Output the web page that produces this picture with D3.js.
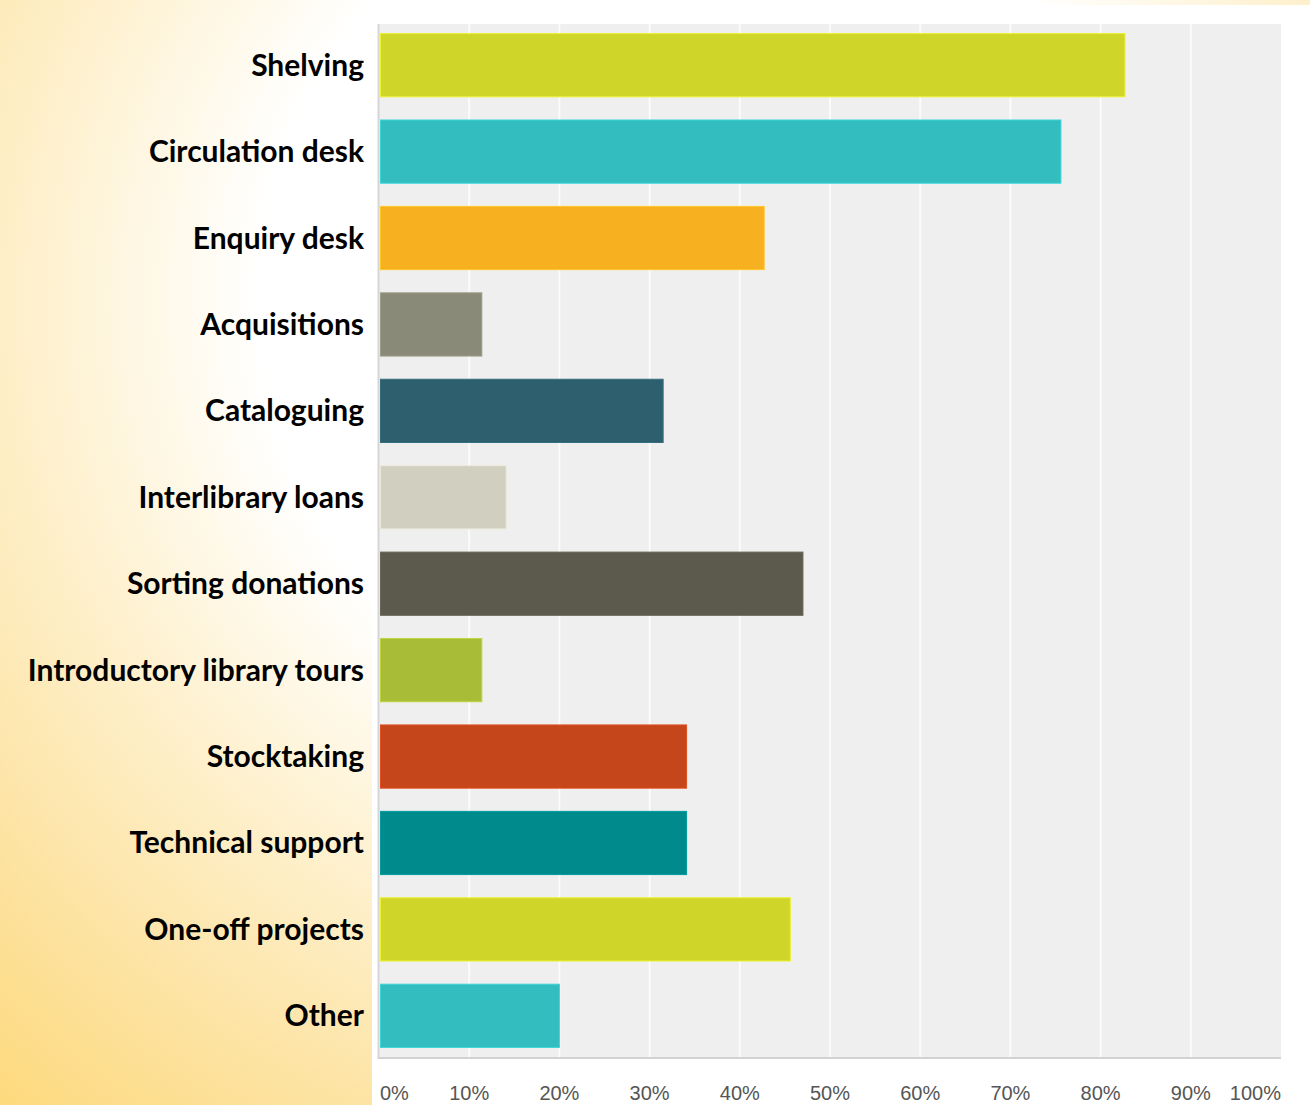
<!DOCTYPE html>
<html>
<head>
<meta charset="utf-8">
<script src="https://cdn.jsdelivr.net/npm/d3@7"></script>
<style>
  html, body { margin: 0; padding: 0; background: #fff; }
  svg { display: block; }
</style>
</head>
<body>
<svg id="chart" width="1310" height="1105"></svg>
<script>
// Library volunteer tasks: share of respondents per task
const categories = [
  "Shelving", "Circulation desk", "Enquiry desk", "Acquisitions", "Cataloguing",
  "Interlibrary loans", "Sorting donations", "Introductory library tours",
  "Stocktaking", "Technical support", "One-off projects", "Other"
];
const values = [82.7, 75.6, 42.7, 11.4, 31.5, 14.1, 47.0, 11.4, 34.1, 34.1, 45.6, 20.0];
const barColors = [
  "#d0d52a", "#33bdbf", "#f6b020", "#8a8a78", "#2e5f6e", "#d0cfc0",
  "#5c5a4c", "#a8bc37", "#c6461b", "#008a8c", "#d0d52a", "#33bdbf"
];
const tickValues = [0, 10, 20, 30, 40, 50, 60, 70, 80, 90, 100];
const tickLabels = ["0%", "10%", "20%", "30%", "40%", "50%", "60%", "70%", "80%", "90%", "100%"];

const svg = d3.select("#chart");
const W = 1310, H = 1105;

// slide background: warm radial wash
const defs = svg.append("defs");
const grad = defs.append("radialGradient")
  .attr("id", "bgGrad")
  .attr("gradientUnits", "userSpaceOnUse")
  .attr("cx", 700).attr("cy", 300).attr("r", 1100);
[[0, "#ffffff"], [0.4, "#ffffff"], [0.6, "#fef1cf"], [0.8, "#fde3a2"], [1, "#fdd877"]]
  .forEach(([o, c]) => grad.append("stop").attr("offset", o).attr("stop-color", c));
svg.append("rect").attr("width", W).attr("height", H).attr("fill", "url(#bgGrad)");

// white chart card
svg.append("rect").attr("x", 372).attr("y", 5).attr("width", W - 372).attr("height", H - 5)
  .attr("fill", "#ffffff");

const plot = { left: 379, right: 1281, top: 24, bottom: 1057 };

const x = d3.scaleLinear().domain([0, 100]).range([plot.left, plot.right]);
const y = d3.scaleBand().domain(categories)
  .range([plot.top, plot.bottom])
  .paddingInner(0.257).paddingOuter(0.105);

// plot panel
svg.append("rect")
  .attr("x", plot.left).attr("y", plot.top)
  .attr("width", plot.right - plot.left).attr("height", plot.bottom - plot.top)
  .attr("fill", "#efefef");

// vertical gridlines
svg.append("g").selectAll("line")
  .data(tickValues.slice(1, -1))
  .join("line")
  .attr("x1", d => x(d)).attr("x2", d => x(d))
  .attr("y1", plot.top).attr("y2", plot.bottom)
  .attr("stroke", "#fbfbfb").attr("stroke-width", 2);

// axis lines
svg.append("line")
  .attr("x1", plot.left - 0.5).attr("x2", plot.left - 0.5)
  .attr("y1", plot.top).attr("y2", plot.bottom + 2)
  .attr("stroke", "#d6d6d6").attr("stroke-width", 2);
svg.append("line")
  .attr("x1", plot.left - 1).attr("x2", plot.right)
  .attr("y1", plot.bottom + 1).attr("y2", plot.bottom + 1)
  .attr("stroke", "#d2d2d2").attr("stroke-width", 2);

// bars
svg.append("g").selectAll("rect")
  .data(categories)
  .join("rect")
  .attr("x", x(0) + 1.5)
  .attr("y", d => y(d) + 0.5)
  .attr("width", (d, i) => x(values[i]) - x(0) - 1.5)
  .attr("height", y.bandwidth() - 1)
  .attr("fill", (d, i) => barColors[i])
  .attr("stroke", (d, i) => d3.color(barColors[i]).brighter(0.35))
  .attr("stroke-width", 1);

// category labels
svg.append("g").selectAll("text")
  .data(categories)
  .join("text")
  .attr("x", 364)
  .attr("y", d => y(d) + y.bandwidth() / 2)
  .attr("dy", "0.35em")
  .attr("text-anchor", "end")
  .attr("font-family", "Lato, 'Open Sans', sans-serif")
  .attr("font-weight", "bold")
  .attr("font-size", 30)
  .attr("fill", "#000")
  .text(d => d);

// percentage tick labels
svg.append("g").selectAll("text")
  .data(tickValues)
  .join("text")
  .attr("x", (d, i) => i === 0 ? x(d) + 1 : x(d))
  .attr("y", 1100)
  .attr("text-anchor", (d, i) => i === 0 ? "start" : (i === tickValues.length - 1 ? "end" : "middle"))
  .attr("font-family", "'Liberation Sans', Arial, sans-serif")
  .attr("font-size", 20)
  .attr("fill", "#555555")
  .text((d, i) => tickLabels[i]);
</script>
</body>
</html>
